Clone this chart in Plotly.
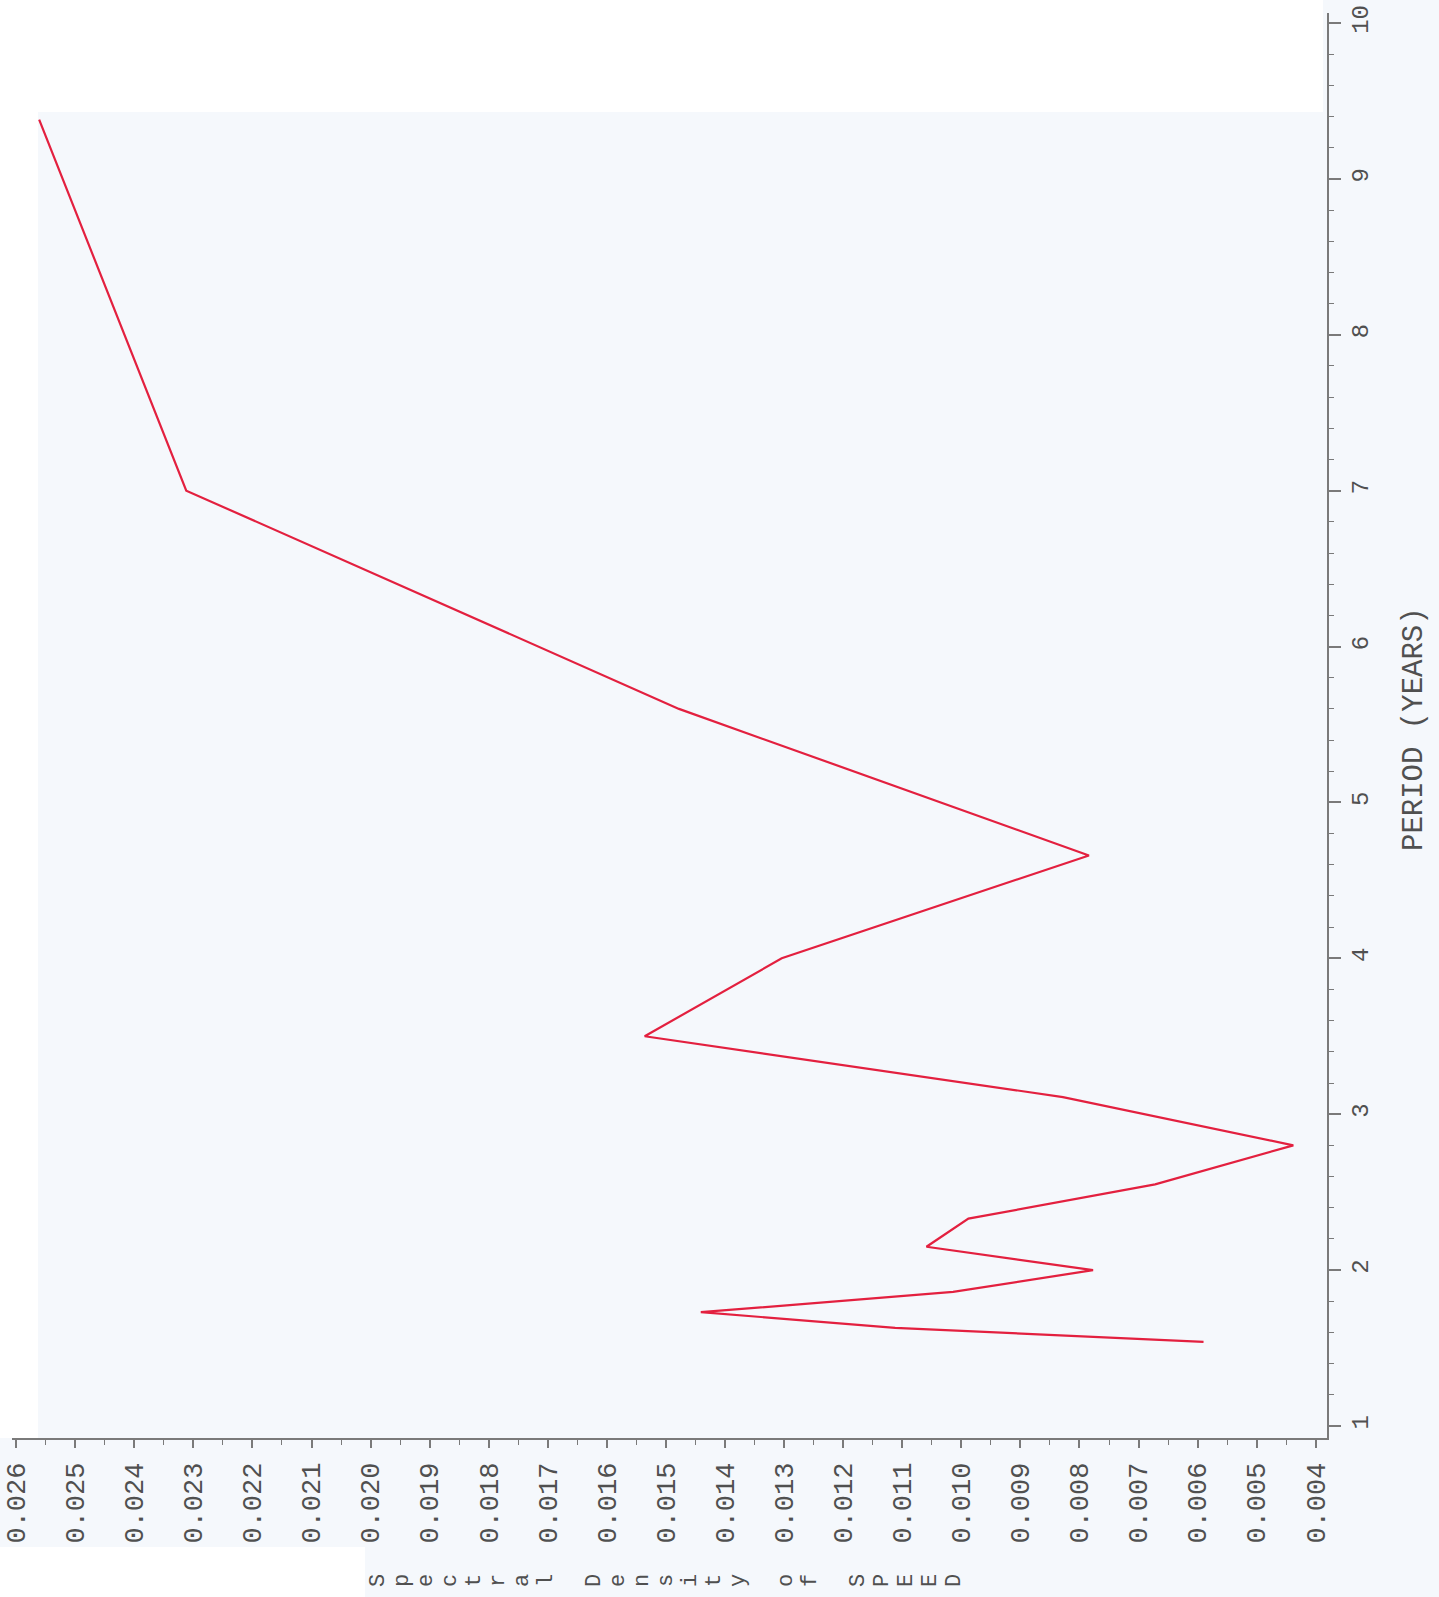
import plotly.graph_objects as go

# Period (years) of each spectral estimate, top to bottom of the curve
period_years = [9.38, 7.0, 5.6, 4.66, 4.0, 3.5, 3.11, 2.8, 2.55, 2.33, 2.15, 2.0, 1.86, 1.73, 1.63, 1.54]
# Spectral density of SPEED at each period
spectral_density = [0.02561, 0.02312, 0.01478, 0.00784, 0.01304, 0.01536, 0.00828, 0.00438,
                    0.00672, 0.00988, 0.01059, 0.00777, 0.01014, 0.01441, 0.01112, 0.00590]

density_ticks = [0.026, 0.025, 0.024, 0.023, 0.022, 0.021, 0.020, 0.019, 0.018, 0.017, 0.016,
                 0.015, 0.014, 0.013, 0.012, 0.011, 0.010, 0.009, 0.008, 0.007, 0.006, 0.005, 0.004]
density_ticktext = ["0.026", "0.025", "0.024", "0.023", "0.022", "0.021", "0.020", "0.019", "0.018",
                    "0.017", "0.016", "0.015", "0.014", "0.013", "0.012", "0.011", "0.010", "0.009",
                    "0.008", "0.007", "0.006", "0.005", "0.004"]
period_ticks = [1, 2, 3, 4, 5, 6, 7, 8, 9, 10]
period_ticktext = ["1", "2", "3", "4", "5", "6", "7", "8", "9", "10"]

x_title = "Spectral Density of SPEED"
y_title = "PERIOD (YEARS)"

W, H = 1439, 1597
L, R, T, B = 12, 112, 13, 159
PW, PH = W - L - R, H - T - B

def px(x):
    return (x - L) / PW

def py(y):
    return (H - B - y) / PH

MONO = "Liberation Mono, Courier New, monospace"
AXIS = "#7a7a7a"
TXT = "#505050"
PALE = "#f5f8fc"

fig = go.Figure()
fig.add_trace(go.Scatter(
    x=spectral_density, y=period_years, mode="lines",
    line=dict(color="#e3203f", width=2.2), showlegend=False, hoverinfo="skip",
))

white_rects = [(0, 0, 38, 1438), (0, 0, 1323, 112), (0, 1547, 365, H)]
shapes = [dict(type="rect", xref="paper", yref="paper", layer="below",
               x0=px(a), x1=px(c), y0=py(d), y1=py(b),
               fillcolor="white", line=dict(width=0)) for a, b, c, d in white_rects]

annotations = [
    dict(text=y_title, xref="paper", yref="paper", x=px(1414), y=py(729),
         textangle=-90, showarrow=False, xanchor="center", yanchor="middle",
         font=dict(family=MONO, size=29, color=TXT)),
]
# density-axis title: one rotated letter per slot, laid out left to right
slot_x0, slot_pitch = 378, 24
for i, ch in enumerate(x_title):
    if ch == " ":
        continue
    annotations.append(dict(
        text=ch, xref="paper", yref="paper", x=px(slot_x0 + i * slot_pitch), y=py(1581),
        textangle=-90, showarrow=False, xanchor="center", yanchor="middle",
        font=dict(family=MONO, size=22, color=TXT)))

fig.update_layout(
    template="none",
    width=W, height=H,
    margin=dict(l=L, r=R, t=T, b=B, autoexpand=False),
    paper_bgcolor=PALE, plot_bgcolor="rgba(0,0,0,0)",
    font=dict(family=MONO, color=TXT),
    shapes=shapes,
    annotations=annotations,
    xaxis=dict(
        range=[0.02607, 0.00381], side="bottom",
        tickmode="array", tickvals=density_ticks, ticktext=density_ticktext,
        tickangle=-90, tickfont=dict(family=MONO, size=27, color=TXT),
        ticks="outside", ticklen=8, tickwidth=1.5, tickcolor=AXIS,
        ticklabelstandoff=4,
        minor=dict(ticks="outside", ticklen=5, tickwidth=1.2, tickcolor=AXIS,
                   tick0=0.0045, dtick=0.001),
        showline=True, linecolor=AXIS, linewidth=1.5,
        showgrid=False, zeroline=False, mirror=False, automargin=False,
    ),
    yaxis=dict(
        range=[0.923, 10.064], side="right",
        tickmode="array", tickvals=period_ticks, ticktext=period_ticktext,
        tickangle=-90, tickfont=dict(family=MONO, size=24, color=TXT),
        ticks="outside", ticklen=12, tickwidth=1.5, tickcolor=AXIS,
        ticklabelstandoff=-2,
        minor=dict(ticks="outside", ticklen=5, tickwidth=1.2, tickcolor=AXIS,
                   tick0=1, dtick=0.2),
        showline=True, linecolor=AXIS, linewidth=1.5,
        showgrid=False, zeroline=False, mirror=False, automargin=False,
    ),
)

fig.write_html("out.html", config={"displayModeBar": False},
               post_script="document.body.style.margin='0';document.body.style.overflow='hidden';")
